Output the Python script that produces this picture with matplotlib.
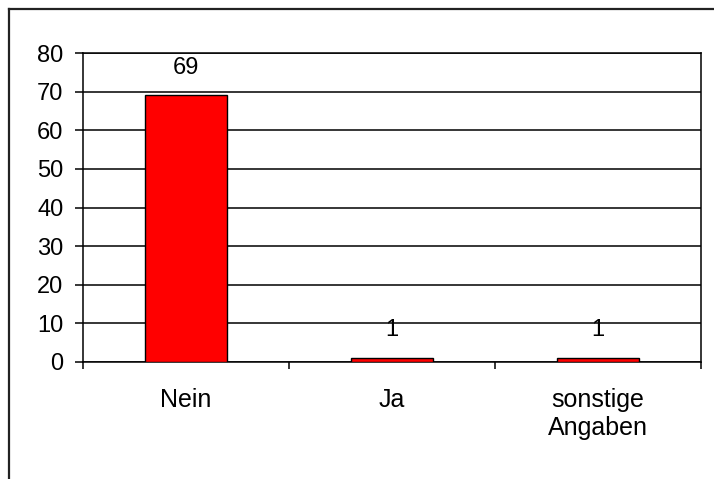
import numpy as np
import matplotlib.pyplot as plt
from matplotlib.lines import Line2D

plt.rcParams['font.family'] = ['Liberation Sans', 'DejaVu Sans']

# data
categories = ['Nein', 'Ja', 'sonstige\nAngaben']
values = [69, 1, 1]
yticks = [0, 10, 20, 30, 40, 50, 60, 70, 80]

W, H = 714, 479
fig = plt.figure(figsize=(W / 100, H / 100), dpi=100)
ax = fig.add_axes([83 / W, 1 - 362 / H, (701 - 83) / W, (362 - 53) / H])

x = np.arange(len(categories))
ax.bar(x, values, width=0.4, color='#FF0000', edgecolor='black', linewidth=1, zorder=3)

for xi, v in zip(x, values):
    ax.annotate(str(v), (xi, v), xytext=(0, 20), textcoords='offset points',
                ha='center', va='center', fontsize=17, zorder=4)

ax.set_xlim(-0.5, len(categories) - 0.5)
ax.set_ylim(0, 80)
ax.set_yticks(yticks)
ax.yaxis.grid(True, color='black', linewidth=1.1, zorder=1)
ax.set_axisbelow(True)

ax.set_xticks(x)
ax.set_xticklabels(categories, fontsize=18, linespacing=1.2)
ax.set_xticks(np.arange(len(categories) + 1) - 0.5, minor=True)
ax.tick_params(axis='x', which='major', length=0, pad=19)
ax.tick_params(axis='x', which='minor', length=5, width=1.1, direction='out')
ax.tick_params(axis='y', length=6, width=1.1, pad=8, labelsize=17)

for s in ax.spines.values():
    s.set_linewidth(1.1)
    s.set_color('black')

# outer chart-area frame (runs off the bottom/right of the picture)
fx, fy = 9 / W, 1 - 9 / H
fig.add_artist(Line2D([fx, fx], [0, fy], transform=fig.transFigure, color='#222222', linewidth=1.6))
fig.add_artist(Line2D([fx, 1], [fy, fy], transform=fig.transFigure, color='#222222', linewidth=1.6))

fig.savefig('out.png', dpi=100)
